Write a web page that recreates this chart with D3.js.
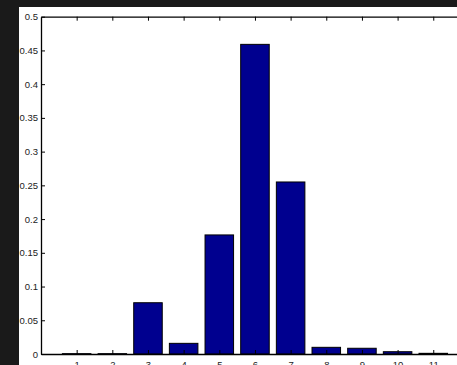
<!DOCTYPE html>
<html>
<head>
<meta charset="utf-8">
<script src="https://cdn.jsdelivr.net/npm/d3@7"></script>
<style>
  html, body { margin: 0; padding: 0; background: #1a1a1a; }
  svg { display: block; }
  .axis text { font-family: "Liberation Sans", Arial, sans-serif; font-size: 9.5px; fill: #222; }
  .axis path, .axis line { stroke: #000; }
</style>
</head>
<body>
<svg id="chart"></svg>
<script>
const categories = [1, 2, 3, 4, 5, 6, 7, 8, 9, 10, 11];
const values = [0.0005, 0.0005, 0.076, 0.0158, 0.1765, 0.459, 0.255, 0.0099, 0.0085, 0.0034, 0.001];
const yTicks = [0, 0.05, 0.1, 0.15, 0.2, 0.25, 0.3, 0.35, 0.4, 0.45, 0.5];

const W = 457, H = 365;
const plot = {left: 41, top: 16.7, bottom: 354, unit: 35.66};

const svg = d3.select('#chart').attr('width', W).attr('height', H);

svg.append('rect').attr('width', W).attr('height', H).attr('fill', '#1a1a1a');
svg.append('rect').attr('x', 19).attr('y', 7).attr('width', W - 19).attr('height', H - 7).attr('fill', '#fff');

// x runs 0..12 like the original, so the right edge falls outside the window
const x = d3.scaleLinear().domain([0, 12]).range([plot.left, plot.left + 12 * plot.unit]);
const y = d3.scaleLinear().domain([0, 0.5]).range([plot.bottom, plot.top]);

const barW = 0.8;

svg.append('g')
    .selectAll('rect')
    .data(categories)
    .join('rect')
    .attr('x', (d) => x(d - barW / 2))
    .attr('width', (d) => x(d + barW / 2) - x(d - barW / 2))
    .attr('y', (d, i) => y(values[i]))
    .attr('height', (d, i) => y(0) - y(values[i]))
    .attr('fill', '#00008f')
    .attr('stroke', '#000')
    .attr('stroke-width', 1);

svg.append('g')
    .attr('class', 'axis')
    .attr('transform', `translate(${plot.left}, 0)`)
    .call(d3.axisLeft(y).tickValues(yTicks).tickFormat((d) => String(d)).tickSizeInner(-4).tickSizeOuter(0).tickPadding(3));

svg.append('g')
    .attr('class', 'axis')
    .attr('transform', `translate(0, ${plot.bottom})`)
    .call(d3.axisBottom(x).tickValues(categories).tickFormat(d3.format('d')).tickSizeInner(-4).tickSizeOuter(0).tickPadding(7));

svg.append('g')
    .attr('class', 'axis')
    .attr('transform', `translate(0, ${plot.top})`)
    .call(d3.axisTop(x).tickValues(categories).tickFormat('').tickSizeInner(-4).tickSizeOuter(0));

svg.selectAll('.axis .domain').attr('stroke-width', 1.3);
</script>
</body>
</html>
